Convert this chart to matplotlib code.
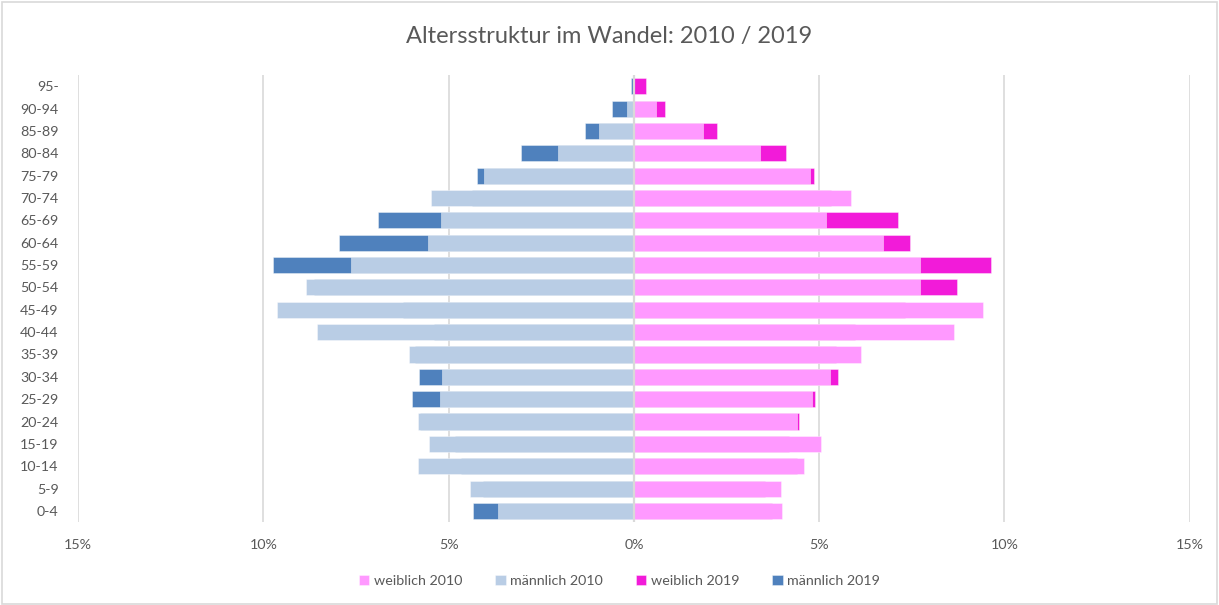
import matplotlib
matplotlib.use("Agg")
import matplotlib.pyplot as plt
from matplotlib.patches import Rectangle
import numpy as np

#---------------- data (percent of population) ----------------#
ages = ["95-", "90-94", "85-89", "80-84", "75-79", "70-74", "65-69", "60-64",
        "55-59", "50-54", "45-49", "40-44", "35-39", "30-34", "25-29",
        "20-24", "15-19", "10-14", "5-9", "0-4"]

female_2010 = [0.0, 0.59, 1.86, 3.40, 4.74, 5.85, 5.18, 6.73, 7.72, 7.72,
               9.42, 8.65, 6.13, 5.30, 4.82, 4.41, 5.06, 4.58, 3.96, 4.01]
male_2010 = [0.0, 0.19, 0.93, 2.05, 4.04, 5.47, 5.20, 5.56, 7.64, 8.85,
             9.62, 8.56, 6.06, 5.18, 5.24, 5.82, 5.53, 5.82, 4.41, 3.67]
female_2019 = [0.32, 0.85, 2.24, 4.10, 4.85, 5.32, 7.13, 7.45, 9.64, 8.72,
               7.32, 5.96, 5.46, 5.50, 4.90, 4.45, 4.19, 4.41, 3.53, 3.74]
male_2019 = [0.08, 0.58, 1.33, 3.05, 4.24, 4.36, 6.91, 7.95, 9.75, 8.64,
             6.23, 5.39, 5.90, 5.81, 5.99, 5.77, 4.84, 4.67, 4.08, 4.35]

#---------------- colours ----------------#
c_f10 = "#FF99FF"
c_m10 = "#B9CDE5"
c_f19 = "#F21BD9"
c_m19 = "#4F81BD"
grid_c = "#D9D9D9"
text_c = "#595959"

plt.rcParams["font.family"] = ["Lato", "DejaVu Sans"]

fig = plt.figure(figsize=(12.19, 6.05), dpi=100)
ax = fig.add_axes([0.064, 0.137, 0.912, 0.739])

y = np.arange(len(ages))[::-1]
h = 0.72
edge = (1, 1, 1, 0.45)

# 2019 behind, 2010 in front
ax.barh(y, female_2019, height=h, color=c_f19, edgecolor=edge, lw=0.6, zorder=2, label="weiblich 2019")
ax.barh(y, [-v for v in male_2019], height=h, color=c_m19, edgecolor=edge, lw=0.6, zorder=2, label="männlich 2019")
ax.barh(y, female_2010, height=h, color=c_f10, edgecolor=edge, lw=0.6, zorder=3, label="weiblich 2010")
ax.barh(y, [-v for v in male_2010], height=h, color=c_m10, edgecolor=edge, lw=0.6, zorder=3, label="männlich 2010")

ax.axvline(0, color=grid_c, lw=1.6, zorder=4)

ax.set_xlim(-15, 15)
ax.set_ylim(-0.5, len(ages) - 0.5)
ticks = [-15, -10, -5, 0, 5, 10, 15]
ax.set_xticks(ticks)
ax.set_xticklabels([f"{abs(t)}%" for t in ticks])
ax.set_yticks(y)
ax.set_yticklabels(ages)
ax.tick_params(length=0, colors=text_c, labelsize=10.3)
ax.tick_params(axis="y", pad=14)
ax.tick_params(axis="x", pad=12)
ax.grid(axis="x", color=grid_c, lw=1.2, zorder=0)
ax.set_axisbelow(True)
for s in ax.spines.values():
    s.set_visible(False)

fig.suptitle("Altersstruktur im Wandel: 2010 / 2019", y=0.957, fontsize=17, color=text_c)

# legend in Excel order
hd, lb = ax.get_legend_handles_labels()
order = [2, 3, 0, 1]
fig.legend([hd[i] for i in order], [lb[i] for i in order], loc="center",
           bbox_to_anchor=(0.508, 0.04), ncol=4, frameon=False, fontsize=10.3,
           handlelength=0.75, handleheight=0.75, handletextpad=0.3,
           columnspacing=2.3, labelcolor=text_c)

# chart area border
fig.patches.append(Rectangle((0.002, 0.002), 0.996, 0.994, transform=fig.transFigure,
                             fill=False, edgecolor=grid_c, lw=1.2))

fig.savefig("out.png", dpi=100)
